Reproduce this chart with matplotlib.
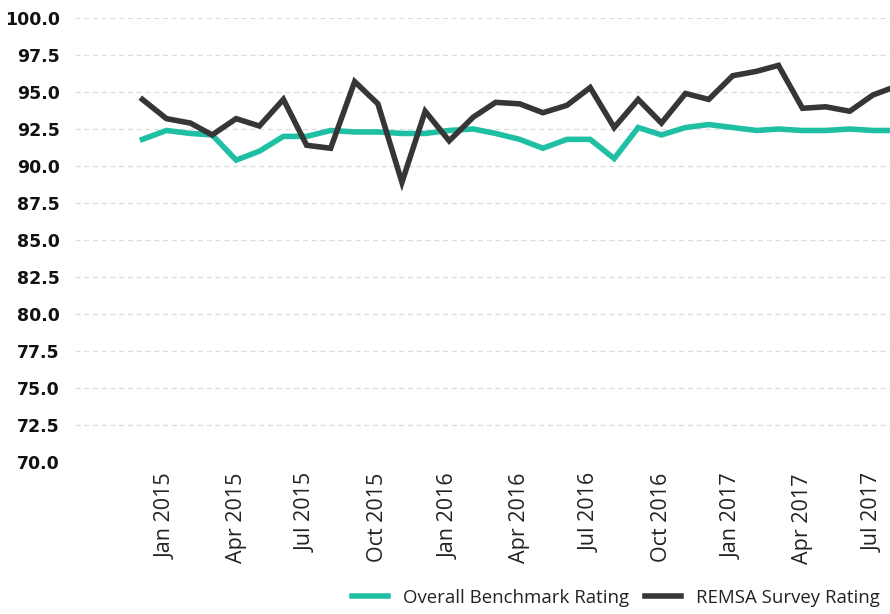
import matplotlib
matplotlib.use("Agg")
import matplotlib.pyplot as plt
import matplotlib.dates as mdates
import pandas as pd

# monthly ratings, Dec 2014 - Aug 2017
months = pd.date_range("2014-12-01", periods=33, freq="MS")
remsa = [94.5, 93.2, 92.9, 92.1, 93.2, 92.7, 94.5, 91.4, 91.2, 95.7, 94.2, 88.9,
         93.7, 91.7, 93.3, 94.3, 94.2, 93.6, 94.1, 95.3, 92.6, 94.5, 92.9, 94.9,
         94.5, 96.1, 96.4, 96.8, 93.9, 94.0, 93.7, 94.8, 95.4]
benchmark = [91.8, 92.4, 92.2, 92.1, 90.4, 91.0, 92.0, 92.0, 92.4, 92.3, 92.3, 92.2,
             92.2, 92.4, 92.5, 92.2, 91.8, 91.2, 91.8, 91.8, 90.5, 92.6, 92.1, 92.6,
             92.8, 92.6, 92.4, 92.5, 92.4, 92.4, 92.5, 92.4, 92.4]
yticks = [70.0, 72.5, 75.0, 77.5, 80.0, 82.5, 85.0, 87.5, 90.0, 92.5, 95.0, 97.5, 100.0]
xticks = pd.date_range("2015-01-01", "2017-07-01", freq="QS")

teal = "#1fbfa3"
dark = "#363636"

fig = plt.figure(figsize=(8.9, 6.14), dpi=100)
ax = fig.add_axes([75/890, 1 - 462/614, 815/890, 444/614])

line1, = ax.plot(months, benchmark, color=teal, linewidth=4.0, solid_joinstyle="miter",
                 label="Overall Benchmark Rating", zorder=3)
line2, = ax.plot(months, remsa, color=dark, linewidth=4.0, solid_joinstyle="miter",
                 label="REMSA Survey Rating", zorder=4)

ax.set_ylim(70, 100)
ax.set_yticks(yticks)
ax.set_yticklabels([f"{v:.1f}" for v in yticks], fontsize=12.5, fontweight="bold",
                   color="#111111", family="DejaVu Sans")
ax.set_xlim(pd.Timestamp("2014-09-05"), pd.Timestamp("2017-07-23"))
ax.set_xticks(xticks)
ax.xaxis.set_major_formatter(mdates.DateFormatter("%b %Y"))
for lbl in ax.get_xticklabels():
    lbl.set_rotation(90)
    lbl.set_fontsize(15.5)
    lbl.set_family("Open Sans")
    lbl.set_color("#222222")

ax.tick_params(axis="both", length=0)
ax.tick_params(axis="y", pad=11)
ax.tick_params(axis="x", pad=8)
ax.grid(axis="y", color="#dcdcdc", linestyle=(0, (4, 3)), linewidth=0.9)
ax.grid(axis="x", visible=False)
for s in ax.spines.values():
    s.set_visible(False)

fig.legend(handles=[line1, line2], loc="center left",
           bbox_to_anchor=(352/890, 1 - 598/614), ncol=2, frameon=False,
           borderpad=0, borderaxespad=0, handlelength=1.95, handletextpad=0.8,
           columnspacing=0.85, prop={"family": "Open Sans", "size": 13.4},
           labelcolor="#222222")

plt.savefig("out.png", dpi=100)
